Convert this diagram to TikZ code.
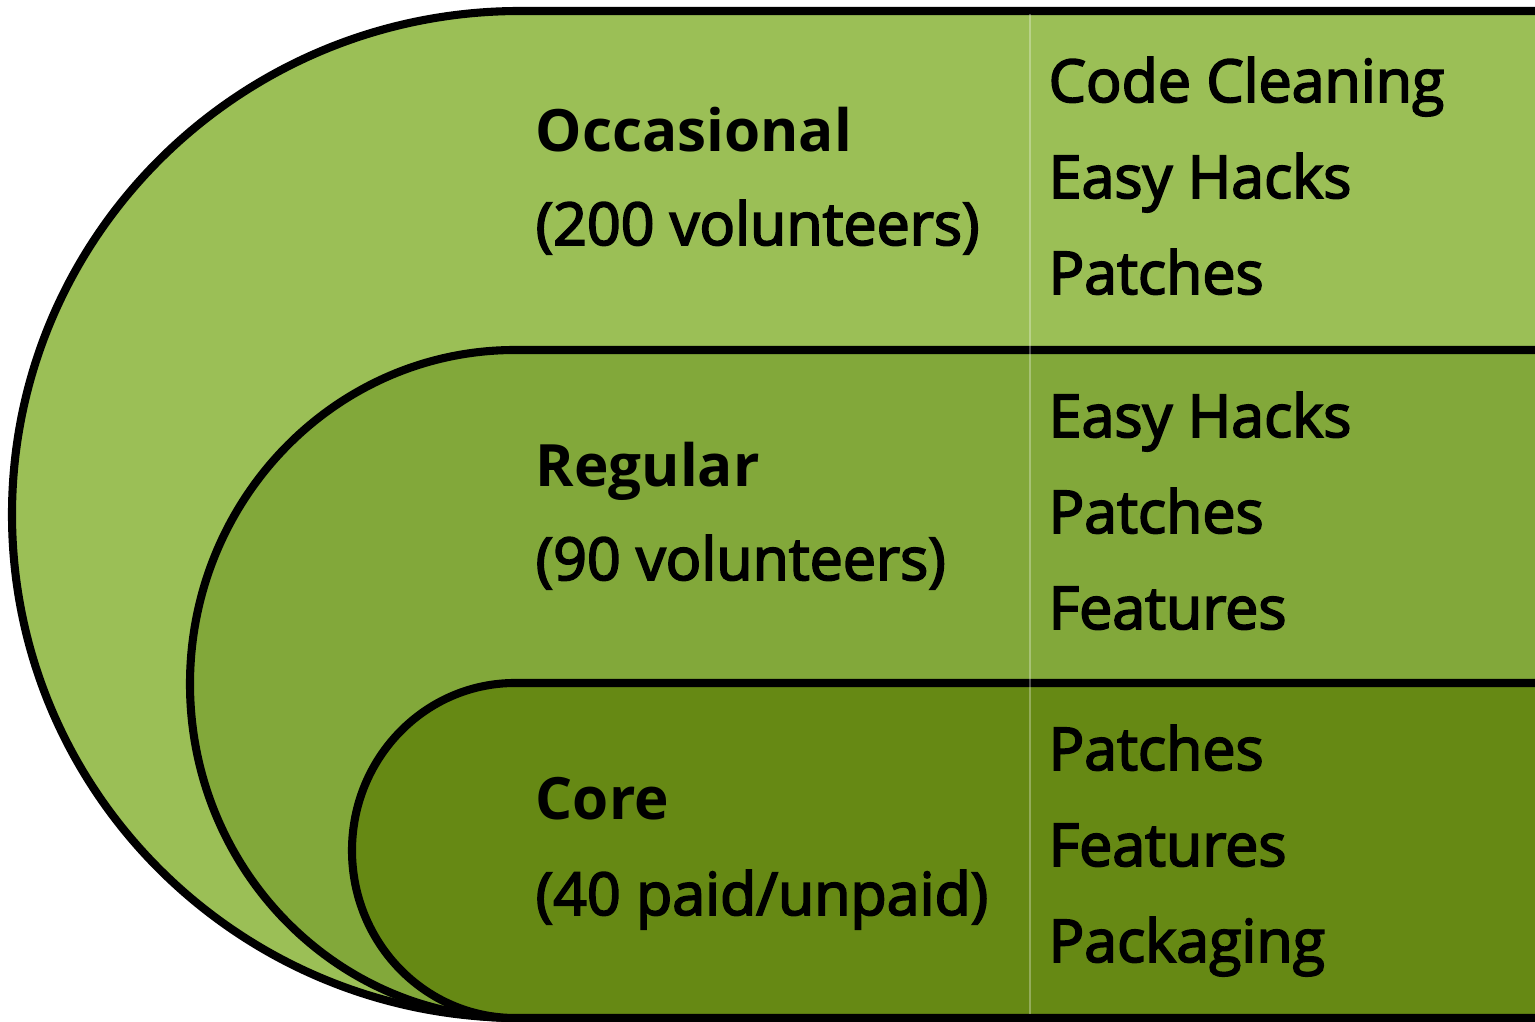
\documentclass[tikz,border=0pt]{standalone}
\usepackage{fontspec}
\setmainfont{Open Sans}
\newfontfamily\semifont{Open Sans}[FakeBold=3]
\usetikzlibrary{positioning}

\definecolor{occgreen}{RGB}{155,191,86}
\definecolor{reggreen}{RGB}{130,168,58}
\definecolor{coregreen}{RGB}{102,137,20}

\tikzset{
  layer/.style={draw=black, line width=2.3pt, line join=round},
  head/.style={anchor=base west, inner sep=0pt, font=\fontsize{16.6}{20}\selectfont\bfseries},
  note/.style={anchor=base west, inner sep=0pt, font=\fontsize{16.8}{20}\selectfont\semifont},
  item/.style={anchor=base west, inner sep=0pt, font=\fontsize{16.8}{20}\selectfont\semifont}
}

\begin{document}
\begin{tikzpicture}[x=0.01cm, y=-0.01cm]
  \useasboundingbox (0,0) rectangle (1535,1022);
  % nested layers
  \path[layer, fill=occgreen]
    (1545,11) -- (520,11) arc[start angle=-90, end angle=-270, x radius=508, y radius=503.5] -- (1545,1018);
  \path[layer, fill=reggreen]
    (1545,350) -- (515,350) arc[start angle=-90, end angle=-270, x radius=325, y radius=334] -- (1545,1018);
  \path[layer, fill=coregreen]
    (1545,683) -- (515,683) arc[start angle=-90, end angle=-270, x radius=163, y radius=167.5] -- (1545,1018);
  \draw[white, opacity=0.3, line width=0.6pt] (1030,14) -- (1030,1014);

  % groups
  \node[head] (occ)   at (535,152) {Occasional};
  \node[note] (occn)  at (535,245) {(200 volunteers)};
  \node[head] (reg)   at (535,487) {Regular};
  \node[note] (regn)  at (535,580) {(90 volunteers)};
  \node[head] (core)  at (535,820) {Core};
  \node[note] (coren) at (535,915) {(40 paid/unpaid)};

  % tasks
  \foreach \txt [count=\i] in {Code Cleaning, Easy Hacks, Patches}
    \node[item] (occ-\i) at (1048,6+96*\i) {\txt};
  \foreach \txt [count=\i] in {Easy Hacks, Patches, Features}
    \node[item] (reg-\i) at (1048,341+96*\i) {\txt};
  \foreach \txt [count=\i] in {Patches, Features, Packaging}
    \node[item] (core-\i) at (1048,674+96*\i) {\txt};
\end{tikzpicture}
\end{document}
